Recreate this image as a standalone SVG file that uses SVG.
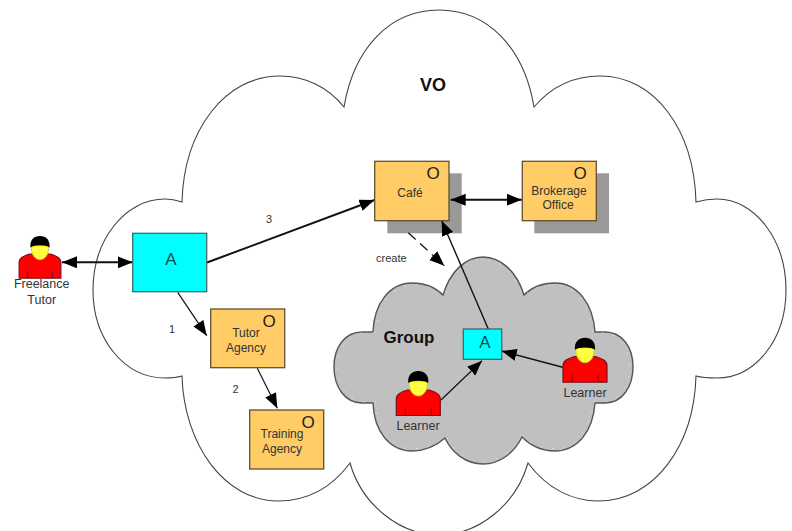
<svg xmlns="http://www.w3.org/2000/svg" xmlns:xlink="http://www.w3.org/1999/xlink" width="792" height="531" viewBox="0 0 792 531">
<style>
text{font-family:"Liberation Sans",Arial,sans-serif;fill:#333;font-size:12px;text-anchor:middle}
.org{fill:#ffcc66;stroke:#5f5130;stroke-width:1.3}
.agt{fill:#00ffff;stroke:#3d6b6b;stroke-width:1.3}
.shd{fill:#999}
.o{font-size:17px;fill:#222}
.a{font-size:17px;fill:#0a4f4f}
.bold{font-weight:bold;fill:#111}
.lbl{font-size:12.5px}
.cn{fill:none;stroke:#111;stroke-width:1.2}
.thick{stroke-width:2}
.ah{marker-end:url(#arr)}
.ah2{marker-start:url(#arr);marker-end:url(#arr)}
</style>
<defs>
<marker id="arr" markerUnits="userSpaceOnUse" markerWidth="17" markerHeight="14" refX="15" refY="6" orient="auto-start-reverse" viewBox="0 0 17 14"><path d="M0 0L15 6L0 12Z" fill="#000"/></marker>
<pattern id="face" patternUnits="userSpaceOnUse" width="3" height="3"><rect width="3" height="3" fill="#ffff22"/><rect width="1.5" height="1.5" fill="#ffff99"/></pattern>
<g id="person">
<path d="M-22 44.5V28C-22 23-17 21-11 19H11C17 21 22 23 22 28V44.5Z" fill="#ff0000" stroke="#7a1020" stroke-width="1.2"/>
<path d="M-13 44V37M13 44V37" stroke="#7a1020" stroke-width="1.2"/>
<path d="M-9 10C-10 18-6 25 0 25C6 25 10 18 9 10Z" fill="url(#face)" stroke="#c8c820" stroke-width=".8"/>
<path d="M-10 12C-11 4-6 0 0 0C6 0 11 4 10 12C6 9-6 9-10 12Z" fill="#000"/>
</g>
</defs>
<rect width="792" height="531" fill="#fff"/>
<g id="vo-cloud">
<path d="M182 202C184 130 225 76 280 76C305 76 328 87 344 107C354 48 390 10 439 10C488 10 524 48 534 107C551 87 574 76 600 76C655 76 694 130 696 202C703 200 710 199 717 199C755 199 786 240 786 290C786 340 755 378 717 378C710 378 703 378 696 376C694 445 655 501 598 501C574 501 548 490 528 463C516 505 478 535 439 535C400 535 362 505 350 463C330 490 304 501 278 501C225 501 184 445 182 376C175 378 170 378 165 378C125 378 93 340 93 290C93 240 125 199 165 199C170 199 176 200 182 202Z" fill="#fff" stroke="#444" stroke-width="1.1"/>
<text x="433" y="91" class="bold" style="font-size:18px">VO</text>
</g>
<g id="group-cloud">
<path d="M373 332C374 303 390 283 412 283C424 283 435 287 443 295C450 272 465 257 483 257C501 257 517 272 524 295C532 287 543 283 555 283C577 283 593 303 595 332C599 332 602 332 605 332C622 332 633 347 633 367C633 387 622 403 605 403C602 403 598 403 595 403C593 432 577 451 555 451C543 451 531 446 522 437C514 453 500 464 483 464C466 464 452 453 445 438C436 446 424 451 412 451C390 451 374 432 373 403C369 403 366 403 362 403C345 403 334 387 334 367C334 347 345 332 362 332C366 332 369 332 373 332Z" fill="#c0c0c0" stroke="#555" stroke-width="1.4"/>
<path transform="translate(483.5 360) scale(.975) translate(-483.5 -360)" d="M373 332C374 303 390 283 412 283C424 283 435 287 443 295C450 272 465 257 483 257C501 257 517 272 524 295C532 287 543 283 555 283C577 283 593 303 595 332C599 332 602 332 605 332C622 332 633 347 633 367C633 387 622 403 605 403C602 403 598 403 595 403C593 432 577 451 555 451C543 451 531 446 522 437C514 453 500 464 483 464C466 464 452 453 445 438C436 446 424 451 412 451C390 451 374 432 373 403C369 403 366 403 362 403C345 403 334 387 334 367C334 347 345 332 362 332C366 332 369 332 373 332Z" fill="none" stroke="#fff" stroke-width="1" stroke-dasharray="1 11" opacity=".75"/>
<text x="409" y="343" class="bold" style="font-size:17px">Group</text>
</g>
<g id="cafe-shadow"><rect class="shd" x="387.3" y="173.3" width="74.4" height="60"/></g>
<g id="brokerage-shadow"><rect class="shd" x="534.3" y="173.3" width="74.7" height="60"/></g>
<g id="connectors">
<line class="cn thick ah2" x1="62" y1="262.3" x2="132.7" y2="262.3"/>
<line class="cn thick ah" x1="207" y1="262.5" x2="374.5" y2="200"/>
<line class="cn ah" x1="177.7" y1="292.3" x2="206.7" y2="335.7"/>
<line class="cn ah" x1="257.3" y1="368.3" x2="277.3" y2="408.3"/>
<line class="cn thick ah2" x1="450.7" y1="199.7" x2="521.8" y2="199.7"/>
<line class="cn ah" x1="408.3" y1="232.7" x2="444.3" y2="265.7" stroke-dasharray="10 6"/>
<line class="cn ah" x1="488.3" y1="329" x2="441.7" y2="220.7" style="stroke-width:1.4"/>
<line class="cn ah" x1="441" y1="400" x2="482" y2="360.7"/>
<line class="cn ah" x1="562.7" y1="367.3" x2="501.7" y2="351" style="stroke-width:1.4"/>
</g>
<g id="agent-large"><rect class="agt" x="132.7" y="233.3" width="74" height="58.4"/><text class="a" x="171" y="265">A</text></g>
<g id="agent-small"><rect class="agt" x="463.3" y="329" width="38.4" height="30.3"/><text class="a" x="485" y="347.5">A</text></g>
<g id="cafe"><rect class="org" x="374.7" y="161.3" width="74.3" height="59.4"/><text class="o" x="433" y="179">O</text><text x="410" y="196.7">Café</text></g>
<g id="brokerage"><rect class="org" x="522.3" y="161.3" width="74" height="59.4"/><text class="o" x="580" y="179">O</text><text x="559" y="195">Brokerage</text><text x="558" y="209">Office</text></g>
<g id="tutor-agency"><rect class="org" x="210.7" y="309" width="74" height="58.7"/><text class="o" x="269" y="327">O</text><text x="246" y="337">Tutor</text><text x="246" y="351.7">Agency</text></g>
<g id="training-agency"><rect class="org" x="249.7" y="410" width="74" height="59"/><text class="o" x="308" y="427.5">O</text><text x="282" y="438">Training</text><text x="282" y="452.7">Agency</text></g>
<g id="freelance-tutor"><use xlink:href="#person" href="#person" transform="translate(40 236) scale(.95)"/><text class="lbl" x="41.7" y="288">Freelance</text><text class="lbl" x="41.7" y="304">Tutor</text></g>
<g id="learner-1"><use xlink:href="#person" href="#person" transform="translate(418.3 371)"/><text class="lbl" x="418" y="430">Learner</text></g>
<g id="learner-2"><use xlink:href="#person" href="#person" transform="translate(585 337.7)"/><text class="lbl" x="585" y="396.7">Learner</text></g>
<g id="labels">
<text x="172" y="333" style="font-size:11px">1</text>
<text x="235.5" y="393" style="font-size:11px">2</text>
<text x="269" y="223" style="font-size:11px">3</text>
<text x="391.3" y="261.7" style="font-size:11px">create</text>
</g>
</svg>
